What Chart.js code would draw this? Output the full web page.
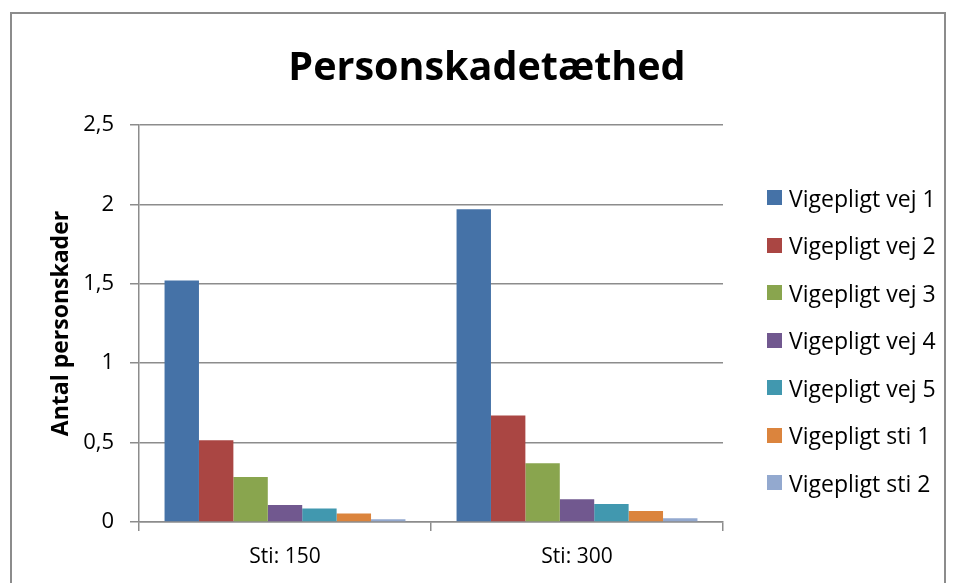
<!DOCTYPE html>
<html>
<head>
<meta charset="utf-8">
<script src="https://cdn.jsdelivr.net/npm/chart.js@4"></script>
<style>
  html, body { margin: 0; padding: 0; background: #fff; }
  #wrap { position: relative; width: 953px; height: 583px; overflow: hidden; font-family: "Open Sans", sans-serif; }
  #frame {
    position: absolute; left: 10px; top: 12px; width: 936px; height: 620px;
    border: 2px solid #8c8c8c; box-sizing: border-box;
  }
  #chart { position: absolute; left: 0; top: 0; }
  #title {
    position: absolute; left: 0; width: 974px; top: 38px; margin: 0;
    text-align: center; font-size: 39.5px; font-weight: bold; line-height: 54px; color: #000;
  }
  #legend {
    position: absolute; left: 767px; top: 174px; margin: 0; padding: 0; list-style: none;
    font-size: 23px; color: #000;
  }
  .leg-item { display: flex; align-items: center; height: 47.5px; white-space: nowrap; }
  .leg-box { width: 15px; height: 15px; margin-right: 7px; flex: none; }
</style>
</head>
<body>
<div id="wrap">
  <div id="frame"></div>
  <canvas id="chart" width="953" height="583"></canvas>
  <h1 id="title">Personskadetæthed</h1>
  <ul id="legend"></ul>
</div>
<script>
// Antal personskader pr. vigepligtsgruppe, to stibredder
const categories = ['Sti: 150', 'Sti: 300'];
const seriesNames = [
  'Vigepligt vej 1', 'Vigepligt vej 2', 'Vigepligt vej 3', 'Vigepligt vej 4',
  'Vigepligt vej 5', 'Vigepligt sti 1', 'Vigepligt sti 2',
];
const vej1 = [1.52, 1.97];
const vej2 = [0.515, 0.67];
const vej3 = [0.283, 0.37];
const vej4 = [0.107, 0.143];
const vej5 = [0.085, 0.113];
const sti1 = [0.053, 0.069];
const sti2 = [0.017, 0.023];
const seriesValues = [vej1, vej2, vej3, vej4, vej5, sti1, sti2];
const colors = ['#4572a7', '#aa4643', '#89a54e', '#71588f', '#4198af', '#db843d', '#93a9cf'];

const GRID = '#8c8c8c';

Chart.defaults.font.family = '"Open Sans", sans-serif';
Chart.defaults.color = '#000';

new Chart(document.getElementById('chart'), {
  type: 'bar',
  data: {
    labels: categories,
    datasets: seriesNames.map((name, i) => ({
      label: name,
      data: seriesValues[i],
      backgroundColor: colors[i],
      borderWidth: 0,
      categoryPercentage: 0.825,
      barPercentage: 1,
    })),
  },
  options: {
    responsive: false,
    animation: false,
    layout: { padding: { left: 44, right: 230, top: 125, bottom: 0 } },
    plugins: {
      legend: { display: false },
      tooltip: { enabled: false },
    },
    scales: {
      x: {
        grid: { drawOnChartArea: false, drawTicks: true, tickLength: 9, color: GRID, lineWidth: 1.5 },
        border: { color: GRID, width: 1.5 },
        ticks: { font: { size: 21 }, padding: 13 },
        afterFit: (scale) => { scale.height = 61; },
      },
      y: {
        min: 0,
        max: 2.5,
        grid: { color: GRID, lineWidth: 1.5, tickLength: 9 },
        border: { color: GRID, width: 1.5 },
        ticks: {
          stepSize: 0.5,
          font: { size: 22 },
          padding: 16,
          callback: (v) => String(v).replace('.', ','),
        },
        title: {
          display: true,
          text: 'Antal personskader',
          font: { size: 23, weight: 'bold' },
        },
        afterFit: (scale) => { scale.width = 95; },
      },
    },
  },
});

// Legend drawn as plain markup next to the plot
document.getElementById('legend').innerHTML = seriesNames
  .map(
    (name, i) => `
  <li class="leg-item">
    <span class="leg-box" style="background:${colors[i]}"></span>
    <span>${name}</span>
  </li>`
  )
  .join('');
</script>
</body>
</html>
